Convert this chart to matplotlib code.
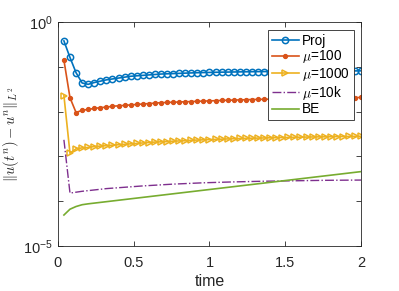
import matplotlib
matplotlib.use("Agg")
import matplotlib.pyplot as plt
import numpy as np

plt.rcParams['font.family'] = ['Liberation Sans', 'DejaVu Sans']
plt.rcParams['mathtext.fontset'] = 'cm'

# time steps, dt = 0.04
t = [0.04*k for k in range(1, 51)]

# log10 of the L2 error
proj = [-0.42, -0.79, -1.13, -1.36, -1.39, -1.35, -1.32, -1.29, -1.27, -1.25,
        -1.23, -1.21, -1.20, -1.19, -1.18, -1.17, -1.16, -1.155, -1.15, -1.145,
        -1.14, -1.135, -1.13, -1.127, -1.124, -1.121, -1.118, -1.116, -1.114, -1.112,
        -1.110, -1.108, -1.106, -1.105, -1.104, -1.103, -1.102, -1.101, -1.100, -1.099,
        -1.098, -1.097, -1.096, -1.095, -1.094, -1.093, -1.092, -1.091, -1.090, -1.089]
mu100 = [-0.85, -1.69, -2.02, -1.97, -1.95, -1.93, -1.91, -1.90, -1.88, -1.87,
         -1.86, -1.85, -1.84, -1.83, -1.82, -1.81, -1.80, -1.795, -1.79, -1.785,
         -1.78, -1.775, -1.77, -1.765, -1.76, -1.755, -1.75, -1.746, -1.742, -1.738,
         -1.734, -1.73, -1.727, -1.724, -1.721, -1.718, -1.715, -1.712, -1.709, -1.706,
         -1.703, -1.70, -1.698, -1.696, -1.694, -1.692, -1.69, -1.688, -1.686, -1.684]
mu1000 = [-1.64, -2.93, -2.83, -2.81, -2.80, -2.78, -2.77, -2.76, -2.75, -2.74,
          -2.73, -2.72, -2.71, -2.70, -2.69, -2.68, -2.675, -2.67, -2.66, -2.655,
          -2.65, -2.64, -2.635, -2.63, -2.625, -2.62, -2.615, -2.61, -2.605, -2.60,
          -2.597, -2.594, -2.591, -2.588, -2.585, -2.582, -2.579, -2.576, -2.573, -2.57,
          -2.568, -2.566, -2.564, -2.562, -2.56, -2.558, -2.556, -2.554, -2.552, -2.55]
mu10k = [-2.63, -3.82, -3.80, -3.78, -3.765, -3.75, -3.735, -3.72, -3.71, -3.70,
         -3.69, -3.68, -3.67, -3.66, -3.652, -3.644, -3.636, -3.628, -3.62, -3.614,
         -3.608, -3.602, -3.596, -3.59, -3.586, -3.582, -3.578, -3.574, -3.57, -3.567,
         -3.564, -3.561, -3.558, -3.555, -3.553, -3.551, -3.549, -3.547, -3.545, -3.543,
         -3.541, -3.539, -3.537, -3.535, -3.534, -3.533, -3.532, -3.531, -3.530, -3.529]
be = [-4.31, -4.18, -4.12, -4.08, -4.060, -4.044, -4.028, -4.012, -3.996, -3.980,
      -3.964, -3.948, -3.932, -3.916, -3.900, -3.884, -3.868, -3.852, -3.836, -3.820,
      -3.804, -3.788, -3.772, -3.756, -3.740, -3.724, -3.708, -3.692, -3.676, -3.660,
      -3.644, -3.628, -3.612, -3.596, -3.580, -3.564, -3.548, -3.532, -3.516, -3.500,
      -3.484, -3.468, -3.452, -3.436, -3.420, -3.404, -3.388, -3.372, -3.356, -3.340]

labels = ["Proj", r"$\mu$=100", r"$\mu$=1000", r"$\mu$=10k", "BE"]

fig = plt.figure(figsize=(3.99, 2.91), dpi=100)
ax = fig.add_axes([0.145, 0.155, 0.76, 0.769])

ax.plot(t, 10**np.array(proj), "-o", color="#0072BD", lw=1.2, ms=4.5,
        mfc="none", mew=1.1, label=labels[0])
ax.plot(t, 10**np.array(mu100), "-o", color="#D95319", lw=1.2, ms=2.8,
        label=labels[1])
ax.plot(t, 10**np.array(mu1000), "->", color="#EDB120", lw=1.2, ms=5,
        mfc="none", mew=1.1, label=labels[2])
ax.plot(t, 10**np.array(mu10k), "-.", color="#7E2F8E", lw=1.0, label=labels[3])
ax.plot(t, 10**np.array(be), "-", color="#77AC30", lw=1.2, label=labels[4])

ax.set_yscale("log")
ax.set_xlim(0, 2)
ax.set_ylim(1e-5, 1e0)
ax.set_xticks([0, 0.5, 1, 1.5, 2])
ax.set_xticklabels(["0", "0.5", "1", "1.5", "2"])
ax.set_yticks([1e-5, 1e-4, 1e-3, 1e-2, 1e-1, 1e0])
ax.set_yticklabels([r"$\mathdefault{10^{-5}}$", "", "", "", "", r"$\mathdefault{10^{0}}$"])
ax.yaxis.set_minor_locator(matplotlib.ticker.NullLocator())
ax.tick_params(direction="in", top=True, right=True, labelsize=10.5,
               colors="#262626", length=3.5, width=0.6)
ax.tick_params(axis="x", pad=7)
for s in ax.spines.values():
    s.set_color("#262626")
    s.set_linewidth(0.6)

ax.set_xlabel("time", fontsize=11.5, color="#262626", labelpad=3)
ax.set_ylabel(r"$\|u(t^n)-u^n\|_{L^2}$", fontsize=10.5, color="#262626")
ax.yaxis.set_label_coords(-0.122, 0.5)

leg = ax.legend(loc="upper right", fontsize=9.8, handlelength=2.0,
                fancybox=False, framealpha=1, edgecolor="#262626",
                borderaxespad=0.55, borderpad=0.3, labelspacing=0.05,
                handletextpad=0.2)
leg.get_frame().set_linewidth(0.6)

fig.savefig("out.png", dpi=100)
